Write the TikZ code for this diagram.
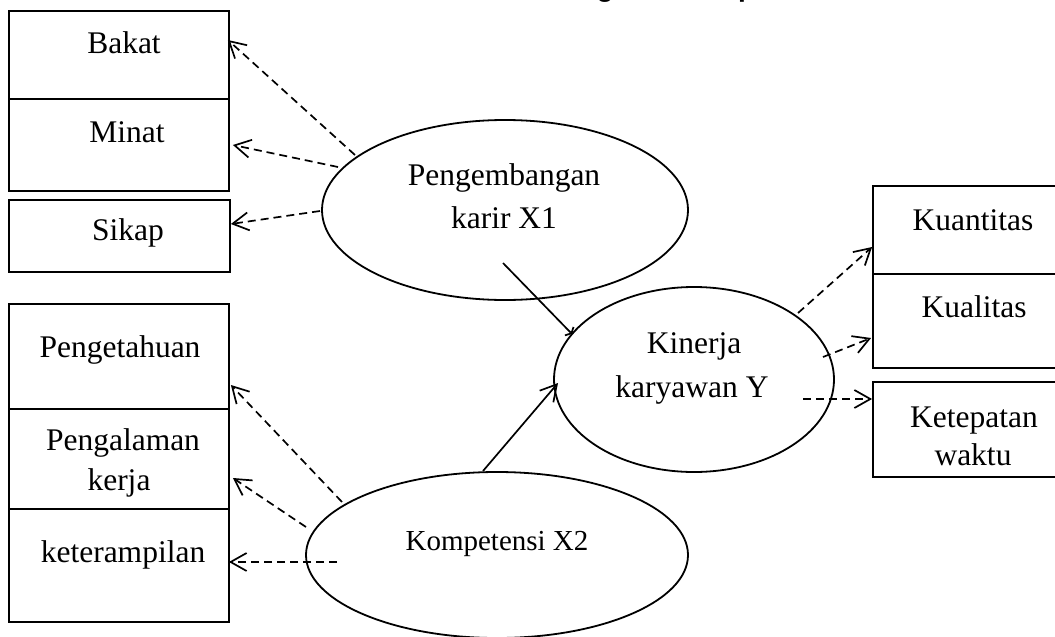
\documentclass[tikz,border=0pt]{standalone}
\usepackage{fontspec}
\setmainfont{Liberation Serif}
\newfontfamily\titlefont{Liberation Sans}
\usetikzlibrary{shapes.geometric,arrows.meta,calc}
\tikzset{
  box/.style={draw, line width=1.8pt, rectangle, inner sep=0pt, minimum width=220pt},
  ell/.style={draw, line width=1.8pt, ellipse, inner sep=0pt},
  lbl/.style={anchor=base, inner sep=0pt, font=\fontsize{31.5}{36}\selectfont},
  lblsmall/.style={anchor=base, inner sep=0pt, font=\fontsize{29}{34}\selectfont},
  dasharrow/.style={line width=1.7pt, dash pattern=on 8pt off 5pt, -{Straight Barb[length=16pt,width=18pt]}},
  solidarrow/.style={line width=1.7pt, -{Straight Barb[length=16pt,width=18pt]}},
  smallarrow/.style={line width=1.7pt, -{Straight Barb[length=3pt,width=12pt]}},
}
\begin{document}
\begin{tikzpicture}[x=1pt,y=-1pt]
\useasboundingbox (0,0) rectangle (1055,637);
\clip (0,0) rectangle (1055,637);
\fill[white] (0,0) rectangle (1055,637);

% title (mostly cut off at the top, as in the reference)
\node[anchor=base west, inner sep=0pt, font=\titlefont\bfseries\fontsize{28}{32}\selectfont] (title) at (517,-3) {Kerangka Konseptual};

% left top boxes
\node[box, minimum height=88pt] (bakat) at (119,55) {};
\node[box, minimum height=92pt] (minat) at (119,145) {};
\node[box, minimum height=72pt, minimum width=221pt] (sikap) at (119.5,236) {};
\node[lbl] (tbakat) at (124,53) {Bakat};
\node[lbl] (tminat) at (127,142) {Minat};
\node[lbl] (tsikap) at (128,240) {Sikap};

% left bottom boxes
\node[box, minimum height=105pt] (penget) at (119,356.5) {};
\node[box, minimum height=100pt] (pengal) at (119,459) {};
\node[box, minimum height=113pt] (keter) at (119,565.5) {};
\node[lbl] (tpenget) at (120,357) {Pengetahuan};
\node[lbl] (tpengal) at (123,450) {Pengalaman};
\node[lbl] (tkerja) at (119,490) {kerja};
\node[lbl] (tketer) at (123,562) {keterampilan};

% right boxes (cut off at right edge)
\node[box, minimum width=207pt, minimum height=88pt] (kuan) at (976.5,230) {};
\node[box, minimum width=207pt, minimum height=94pt] (kual) at (976.5,321) {};
\node[box, minimum width=207pt, minimum height=95pt] (ketep) at (976.5,429.5) {};
\node[lbl] (tkuan) at (973,230) {Kuantitas};
\node[lbl] (tkual) at (974,317) {Kualitas};
\node[lbl] (tketep) at (974,427) {Ketepatan};
\node[lbl] (twaktu) at (973,465) {waktu};

% ellipses
\node[ell, minimum width=366pt, minimum height=180pt] (e1) at (505,210) {};
\node[ell, minimum width=280pt, minimum height=185pt] (e2) at (694,379.5) {};
\node[ell, minimum width=382pt, minimum height=166pt] (e3) at (497,555) {};
\node[lbl] (te1a) at (504,185) {Pengembangan};
\node[lbl] (te1b) at (504,228) {karir X1};
\node[lbl] (te2a) at (694,353) {Kinerja};
\node[lbl] (te2b) at (692,397) {karyawan Y};
\node[lblsmall] (te3) at (497,550) {Kompetensi X2};

% dashed arrows from Pengembangan karir
\draw[dasharrow] ($(e1.center)+(-150,-55)$) -- ($(bakat.east)+(-2,-15)$);
\draw[dasharrow] ($(e1.center)+(-167,-43)$) -- ($(minat.east)+(3,0)$);
\draw[dasharrow] ($(e1.center)+(-185,1)$) -- ($(sikap.east)+(0,-12)$);

% dashed arrows from Kompetensi
\draw[dasharrow] ($(e3.center)+(-155,-53)$) -- ($(penget.east)+(1,28.5)$);
\draw[dasharrow] ($(e3.center)+(-191,-28)$) -- ($(pengal.east)+(3,19)$);
\draw[dasharrow] ($(e3.center)+(-160,7)$) -- ($(keter.east)+(-1,-3.5)$);

% dashed arrows from Kinerja
\draw[dasharrow] ($(e2.center)+(104,-66.5)$) -- ($(kuan.west)+(0,17)$);
\draw[dasharrow] ($(e2.center)+(129,-22.5)$) -- ($(kual.west)+(-1,17)$);
\draw[dasharrow] ($(e2.center)+(109,19.5)$) -- ($(ketep.west)+(0,-30.5)$);

% solid connectors into Kinerja
\draw[smallarrow] ($(e1.center)+(-2,53)$) -- ($(e2.center)+(-122,-45.5)$);
\draw[solidarrow] ($(e3.center)+(-14,-84)$) -- ($(e2.center)+(-136,3.5)$);
\end{tikzpicture}
\end{document}
